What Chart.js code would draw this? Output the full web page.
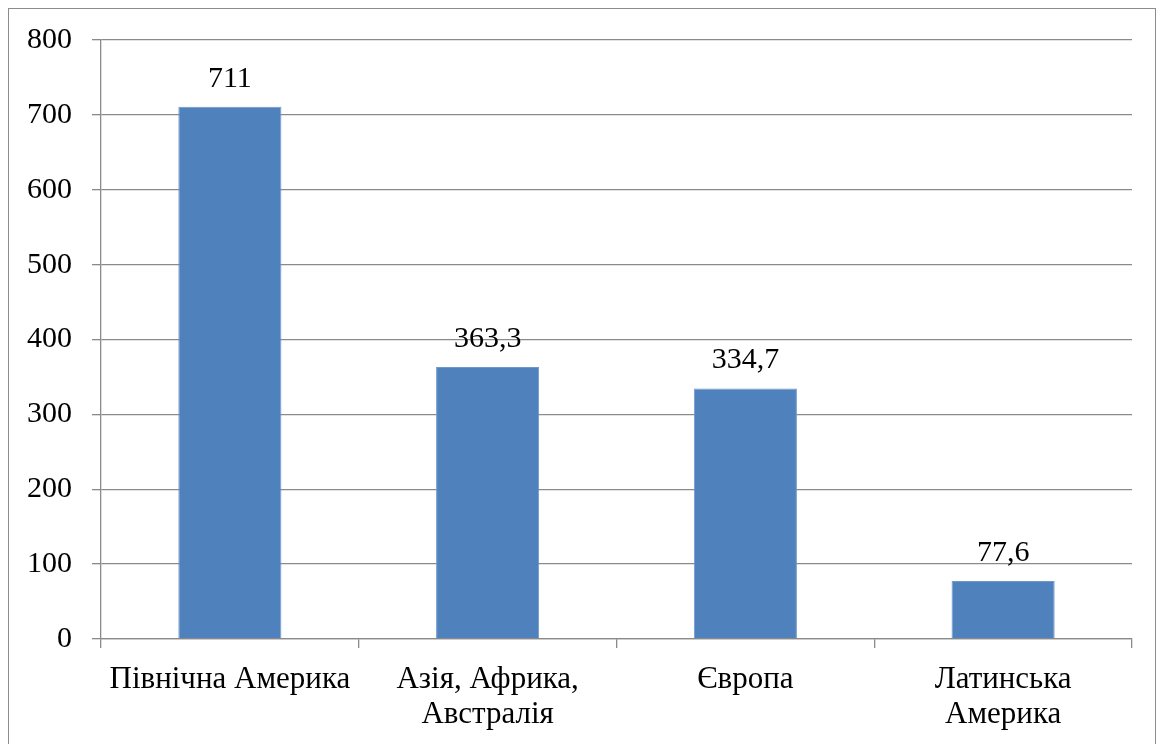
<!DOCTYPE html>
<html lang="uk">
<head>
<meta charset="UTF-8">
<title>Регіони</title>
<script src="https://cdn.jsdelivr.net/npm/chart.js@4.4.1/dist/chart.umd.min.js"></script>
<style>
  html, body { margin: 0; padding: 0; background: #fff; }
  .frame {
    position: absolute; left: 8px; top: 8px;
    width: 1148px; height: 760px;
    border: 1px solid #8c8c8c;
    box-sizing: border-box;
  }
  .wrap { position: absolute; left: 0; top: 0; width: 1160px; height: 744px; }
</style>
</head>
<body>
<div class="frame"></div>
<div class="wrap"><canvas id="chart"></canvas></div>
<script>
// дані
const regions = [
  'Північна Америка',
  ['Азія, Африка,', 'Австралія'],
  'Європа',
  ['Латинська', 'Америка']
];
const values = [711, 363.3, 334.7, 77.6];
const valueLabels = ['711', '363,3', '334,7', '77,6'];

const serif = "'Liberation Serif', 'Times New Roman', serif";
const gridColor = '#8a8a8a';

// підписи значень над стовпцями
const barValues = {
  id: 'barValues',
  afterDatasetsDraw(chart) {
    const ctx = chart.ctx;
    const meta = chart.getDatasetMeta(0);
    ctx.save();
    ctx.font = '30px ' + serif;
    ctx.fillStyle = '#000';
    ctx.textAlign = 'center';
    ctx.textBaseline = 'alphabetic';
    meta.data.forEach((bar, i) => {
      ctx.fillText(valueLabels[i], bar.x, bar.y - 20);
    });
    ctx.restore();
  }
};

new Chart(document.getElementById('chart'), {
  type: 'bar',
  data: {
    labels: regions,
    datasets: [{
      data: values,
      backgroundColor: '#4f81bd',
      borderColor: '#6e98cc',
      borderWidth: 1,
      barPercentage: 0.4,
      categoryPercentage: 1
    }]
  },
  options: {
    responsive: true,
    maintainAspectRatio: false,
    animation: false,
    layout: { padding: { left: 0, right: 28, top: 40, bottom: 0 } },
    plugins: {
      legend: { display: false },
      tooltip: { enabled: false }
    },
    scales: {
      y: {
        min: 0,
        max: 800,
        ticks: {
          stepSize: 100,
          color: '#000',
          padding: 20,
          font: { family: serif, size: 30 }
        },
        grid: { color: gridColor, lineWidth: 1.3, tickLength: 9 },
        border: { color: gridColor, width: 1.3 },
        afterFit(scale) { scale.width = 101; }
      },
      x: {
        ticks: {
          color: '#000',
          padding: 14,
          font: { family: serif, size: 31, lineHeight: 1.14 },
          maxRotation: 0,
          autoSkip: false
        },
        grid: { color: gridColor, lineWidth: 1.3, drawOnChartArea: false, tickLength: 9 },
        border: { color: gridColor, width: 1.3 },
        afterFit(scale) { scale.height = 105; }
      }
    }
  },
  plugins: [barValues]
});
</script>
</body>
</html>
